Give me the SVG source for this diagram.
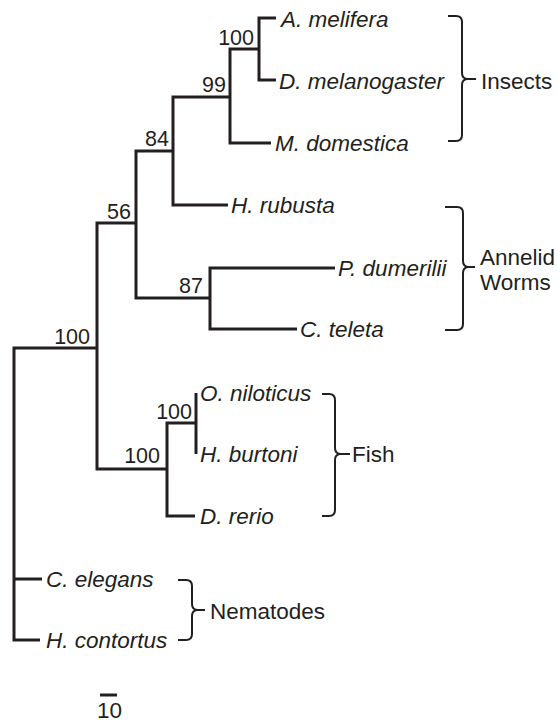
<svg xmlns="http://www.w3.org/2000/svg" width="557" height="722" viewBox="0 0 557 722">
<style>
.e{fill:none;stroke:#231f20;stroke-width:3;stroke-linejoin:miter;stroke-linecap:butt}
.b{fill:none;stroke:#231f20;stroke-width:2}
.t{font-family:"Liberation Sans",Arial,sans-serif;font-size:22.5px;fill:#231f20}
.sp{font-style:italic}
.s{text-anchor:end;font-size:21.5px}
</style>
<rect width="557" height="722" fill="#ffffff"/>
<g id="connectors">
<path class="e" d="M276,18 H259 V80 H276"/>
<path class="e" d="M259,49 H230 V143 H271"/>
<path class="e" d="M230,97 H173 V205 H228"/>
<path class="e" d="M335,268 H210 V329 H297"/>
<path class="e" d="M173,151 H136 V298 H210"/>
<path class="e" d="M196,393 V454"/>
<path class="e" d="M196,423 H167 V516 H195"/>
<path class="e" d="M136,223 H97 V469 H167"/>
<path class="e" d="M97,348 H14 V640 H40 M14,579 H42"/>
</g>
<g id="support-values">
<text class="t s" x="254" y="45">100</text>
<text class="t s" x="226" y="92">99</text>
<text class="t s" x="169" y="146">84</text>
<text class="t s" x="131" y="219">56</text>
<text class="t s" x="203" y="293">87</text>
<text class="t s" x="90" y="344">100</text>
<text class="t s" x="192" y="419">100</text>
<text class="t s" x="160" y="463">100</text>
</g>
<g id="tip-a-melifera"><text class="t sp" x="281" y="27">A. melifera</text></g>
<g id="tip-d-melanogaster"><text class="t sp" x="279" y="89">D. melanogaster</text></g>
<g id="tip-m-domestica"><text class="t sp" x="275" y="151">M. domestica</text></g>
<g id="tip-h-rubusta"><text class="t sp" x="231" y="213">H. rubusta</text></g>
<g id="tip-p-dumerilii"><text class="t sp" x="338" y="276">P. dumerilii</text></g>
<g id="tip-c-teleta"><text class="t sp" x="300" y="337">C. teleta</text></g>
<g id="tip-o-niloticus"><text class="t sp" x="200" y="401">O. niloticus</text></g>
<g id="tip-h-burtoni"><text class="t sp" x="200" y="462">H. burtoni</text></g>
<g id="tip-d-rerio"><text class="t sp" x="200" y="524">D. rerio</text></g>
<g id="tip-c-elegans"><text class="t sp" x="46" y="587">C. elegans</text></g>
<g id="tip-h-contortus"><text class="t sp" x="46" y="648">H. contortus</text></g>
<g id="group-insects">
<path class="b" d="M448,16 H456 Q462,16 462,22 V73 Q462,79 468,79 H476 M468,79 Q462,79 462,85 V135 Q462,141 456,141 H448"/>
<text class="t" x="481" y="89">Insects</text>
</g>
<g id="group-annelid">
<path class="b" d="M445,207 H457 Q463,207 463,213 V261 Q463,267 469,267 H475 M469,267 Q463,267 463,273 V324 Q463,330 457,330 H445"/>
<text class="t" x="480" y="265">Annelid</text>
<text class="t" x="480" y="290">Worms</text>
</g>
<g id="group-fish">
<path class="b" d="M322,394 H329 Q335,394 335,400 V448 Q335,454 341,454 H350 M341,454 Q335,454 335,460 V510 Q335,516 329,516 H322"/>
<text class="t" x="352" y="462">Fish</text>
</g>
<g id="group-nematodes">
<path class="b" d="M178,580 H186 Q192,580 192,586 V604 Q192,610 198,610 H205 M198,610 Q192,610 192,616 V634 Q192,640 186,640 H178"/>
<text class="t" x="210" y="619">Nematodes</text>
</g>
<g id="scale-bar">
<path class="e" d="M100,695 H117"/>
<text class="t" x="97" y="718">10</text>
</g>
</svg>
